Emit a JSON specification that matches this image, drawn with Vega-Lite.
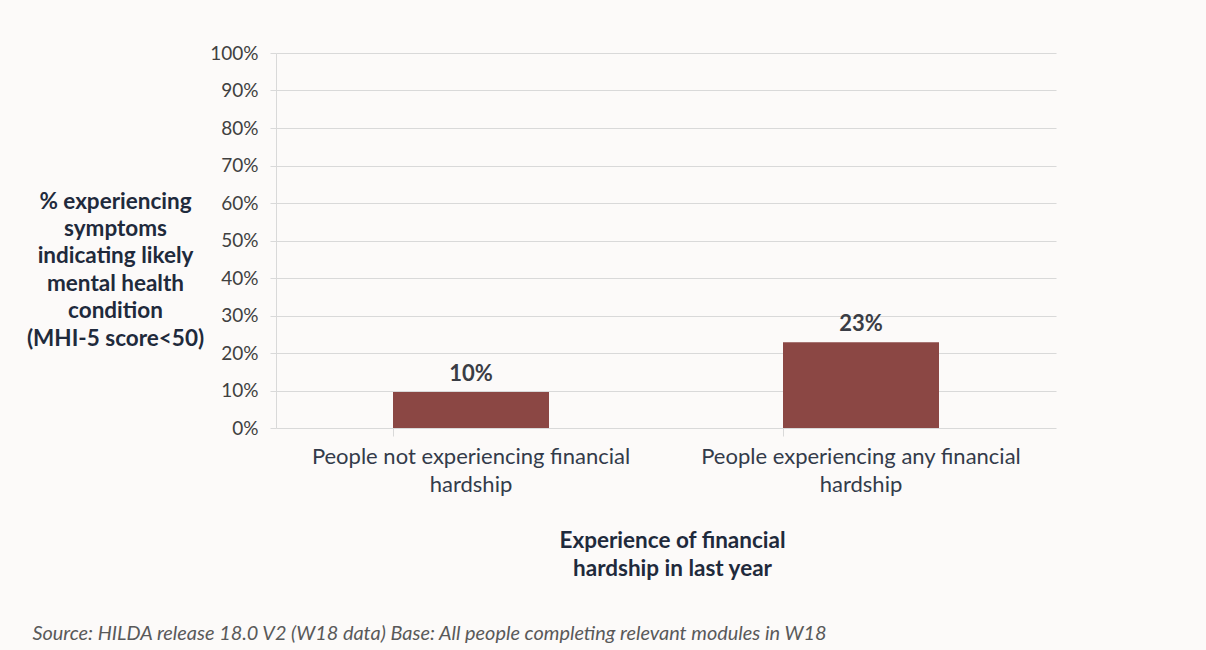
{
  "$schema": "https://vega.github.io/schema/vega-lite/v6.json",
  "width": 780,
  "height": 375,
  "autosize": {"type": "none"},
  "padding": {"left": 276, "top": 53, "right": 150, "bottom": 222},
  "background": "#fcfaf9",
  "config": {
    "font": "Lato",
    "view": {"stroke": null}
  },
  "title": {
    "text": "Source: HILDA release 18.0 V2 (W18 data)  Base: All people completing relevant modules in W18",
    "orient": "bottom",
    "anchor": "start",
    "frame": "bounds",
    "offset": 44,
    "dx": 6,
    "font": "Lato",
    "fontSize": 19.9,
    "fontStyle": "italic",
    "fontWeight": "normal",
    "color": "#595959"
  },
  "data": {
    "values": [
      {"group": "People not experiencing financial hardship", "share": 0.096},
      {"group": "People experiencing any financial hardship", "share": 0.229}
    ]
  },
  "encoding": {
    "x": {
      "field": "group",
      "type": "nominal",
      "sort": null,
      "scale": {"paddingInner": 0.6, "paddingOuter": 0.3},
      "axis": {
        "title": ["Experience of financial", "hardship in last year"],
        "titleFontSize": 22.5,
        "titleFontWeight": "bold",
        "titleColor": "#1f2a3c",
        "titlePadding": 34,
        "titleLineHeight": 28,
        "titleX": 396,
        "titleAnchor": "start",
        "titleAlign": "center",
        "labelAngle": 0,
        "labelFontSize": 22,
        "labelColor": "#333b4a",
        "labelLineHeight": 28,
        "labelPadding": 10,
        "labelLimit": 0,
        "labelExpr": "datum.value == 'People not experiencing financial hardship' ? ['People not experiencing financial', 'hardship'] : ['People experiencing any financial', 'hardship']",
        "bandPosition": 0,
        "tickSize": 8,
        "tickColor": "#d9d9d9",
        "domain": false,
        "grid": false
      }
    },
    "y": {
      "field": "share",
      "type": "quantitative",
      "scale": {"domain": [0, 1]},
      "axis": {
        "values": [0, 0.1, 0.2, 0.3, 0.4, 0.5, 0.6, 0.7, 0.8, 0.9, 1],
        "format": ".0%",
        "labelFontSize": 19,
        "labelColor": "#404040",
        "labelPadding": 12,
        "tickSize": 6,
        "tickColor": "#d9d9d9",
        "gridColor": "#d9d9d9",
        "domainColor": "#d9d9d9",
        "title": ["% experiencing", "symptoms", "indicating likely", "mental health", "condition", "(MHI-5 score<50)"],
        "titleAngle": 0,
        "titleAlign": "center",
        "titleBaseline": "top",
        "titleX": -161,
        "titleY": 137,
        "titleFontSize": 22.5,
        "titleFontWeight": "bold",
        "titleColor": "#1f2a3c",
        "titleLineHeight": 27.4
      }
    }
  },
  "layer": [
    {"mark": {"type": "bar", "color": "#8b4744"}},
    {
      "mark": {"type": "text", "dy": -18, "fontSize": 22, "fontWeight": "bold", "color": "#3a3d45"},
      "encoding": {"text": {"field": "share", "type": "quantitative", "format": ".0%"}}
    }
  ]
}
